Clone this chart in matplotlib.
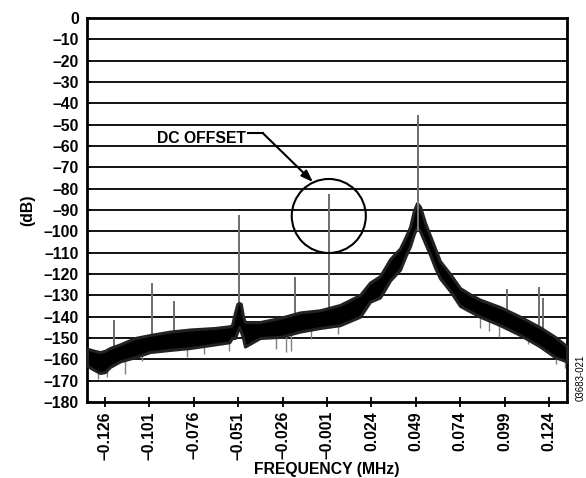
import numpy as np
import matplotlib
matplotlib.use("Agg")
import matplotlib.pyplot as plt
from matplotlib.patches import Ellipse

plt.rcParams['font.family'] = ['Liberation Sans', 'DejaVu Sans']

# noise floor envelope (MHz, dB)
noise_freq = [-0.1361, -0.1320, -0.1288, -0.1260, -0.1232, -0.1176, -0.1091, -0.1007,
              -0.0894, -0.0781, -0.0641, -0.0560, -0.0545, -0.0528, -0.0515, -0.0505,
              -0.0495, -0.0483, -0.0472, -0.0387, -0.0275, -0.0162, -0.0049, 0.0063,
              0.0176, 0.0232, 0.0288, 0.0317, 0.0345, 0.0401, 0.0430, 0.0457, 0.0480,
              0.0497, 0.0514, 0.0542, 0.0570, 0.0598, 0.0626, 0.0683, 0.0739, 0.0795,
              0.0851, 0.0964, 0.1077, 0.1189, 0.1274, 0.1341]
noise_hi = [-155.0, -156.0, -156.6, -156.0, -154.7, -153.0, -150.0, -148.6,
            -147.0, -146.0, -145.3, -144.5, -144.0, -138.0, -134.0, -133.6,
            -134.0, -140.0, -142.5, -142.5, -140.6, -138.0, -137.0, -134.5,
            -129.8, -124.0, -121.0, -117.0, -113.0, -108.0, -103.0, -98.0, -90.0,
            -86.7, -88.5, -96.0, -102.0, -108.0, -114.0, -120.0, -126.6, -129.5,
            -132.0, -135.5, -140.0, -145.0, -149.5, -154.0]
noise_lo = [-163.0, -165.0, -166.4, -166.0, -163.6, -161.0, -159.0, -156.6,
            -155.6, -154.7, -153.0, -152.0, -150.0, -150.0, -147.0, -145.0,
            -147.0, -150.0, -154.0, -150.0, -149.5, -147.0, -145.3, -144.0,
            -140.0, -133.0, -131.0, -127.0, -123.0, -118.0, -112.0, -107.0, -101.0,
            -98.0, -100.0, -105.5, -111.0, -117.0, -122.0, -128.0, -135.0, -137.5,
            -140.0, -144.0, -148.6, -154.0, -159.0, -161.0]

# discrete spurs (MHz, peak dB)
spur_freq = [-0.1209, -0.0997, -0.0871, -0.0505, -0.0190, 0.0000, 0.0502, 0.1002, 0.1184, 0.1206]
spur_top = [-141.6, -124.1, -132.7, -92.5, -121.4, -82.5, -45.5, -127.0, -126.0, -131.4]

# short downward noise spikes below the floor
dip_freq = [-0.1300, -0.1250, -0.1150, -0.1050, -0.0800, -0.0700, -0.0560, -0.0300,
            -0.0240, -0.0210, -0.0100, 0.0050, 0.0850, 0.0900, 0.0960, 0.1120, 0.1280, 0.1330]
dip_low = [-169.0, -168.5, -167.0, -161.0, -159.0, -157.5, -156.0, -155.0,
           -156.5, -156.0, -150.5, -148.0, -145.5, -146.5, -149.5, -153.0, -162.0, -164.0]

xtick_vals = [-0.126, -0.101, -0.076, -0.051, -0.026, -0.001, 0.024, 0.049, 0.074, 0.099, 0.124]
ytick_vals = list(range(0, -181, -10))

fig = plt.figure(figsize=(5.86, 4.78), dpi=100)
ax = fig.add_axes([0.1485, 0.159, 0.8191, 0.8033])

ax.set_xlim(-0.1361, 0.1341)
ax.set_ylim(-180, 0)

for y in ytick_vals[1:-1]:
    ax.axhline(y, color='black', lw=1.3, zorder=1)

spur_base = np.interp(spur_freq, noise_freq, noise_lo)
ax.vlines(spur_freq, spur_base, spur_top, color='#6e6e6e', lw=1.4, zorder=2)
dip_base = np.interp(dip_freq, noise_freq, noise_hi)
ax.vlines(dip_freq, dip_base, dip_low, color='#808080', lw=1.0, zorder=2)

ax.fill_between(noise_freq, noise_lo, noise_hi, facecolor='black', edgecolor='#222222',
                lw=2.2, zorder=3)
# centre spur shows through the close-in peak
ax.vlines([spur_freq[6]], -100, -86, color='#8a8a8a', lw=1.2, zorder=4)

# DC offset callout
circ = Ellipse((0.0, -92.8), width=0.0417, height=34.7, fill=False, ec='black', lw=1.5, zorder=5)
ax.add_patch(circ)
ax.plot([-0.0455, -0.0370], [-53.9, -53.9], color='black', lw=1.5, zorder=5)
ax.annotate('', xy=(-0.0089, -76.9), xytext=(-0.0372, -53.9),
            arrowprops=dict(arrowstyle='-|>,head_length=0.7,head_width=0.25',
                            color='black', lw=1.5, shrinkA=0, shrinkB=0), zorder=5)
ax.text(-0.0466, -56.5, 'DC OFFSET', ha='right', va='center', fontsize=11.3,
        fontweight='bold', zorder=5)

ax.set_xticks(xtick_vals)
ax.set_xticklabels([f'{v:.3f}'.replace('-', '\u2013') for v in xtick_vals],
                   rotation=90, fontsize=11.3, fontweight='bold')
ax.set_yticks(ytick_vals)
ax.set_yticklabels([str(v).replace('-', '\u2013') for v in ytick_vals],
                   fontsize=11.3, fontweight='bold')
ax.tick_params(axis='x', direction='inout', length=7, width=1.3, pad=3)
ax.tick_params(axis='y', direction='in', length=3, width=1.3, pad=6)

for s in ax.spines.values():
    s.set_linewidth(2)

ax.set_xlabel('FREQUENCY (MHz)', fontsize=11.3, fontweight='bold', labelpad=2)
ax.set_ylabel('(dB)', fontsize=11.3, fontweight='bold', labelpad=6)

fig.text(0.990, 0.21, '03683-021', rotation=90, fontsize=7, ha='center', va='center')

fig.savefig('out.png', dpi=100)
